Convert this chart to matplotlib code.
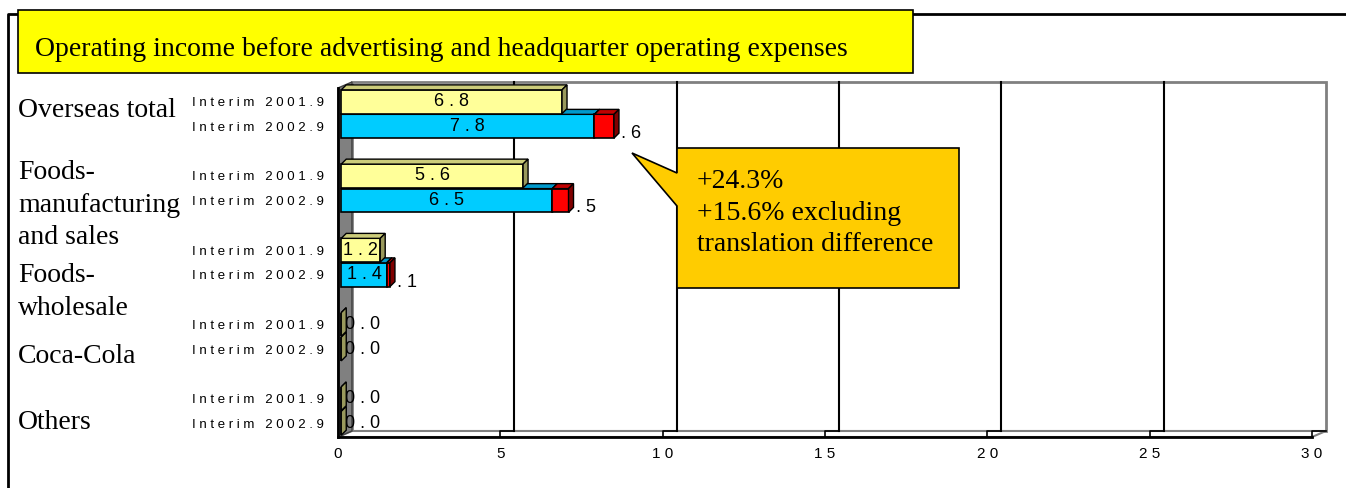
#!/usr/bin/env python3
"""
Operating income chart (Excel style 3-D horizontal bars) redrawn with matplotlib
"""

import matplotlib
matplotlib.use('Agg')  # no display
import matplotlib.pyplot as plt
from matplotlib import font_manager
from matplotlib.patches import Rectangle, Polygon
from matplotlib.transforms import blended_transform_factory

# ---- data ----
categories = ['Overseas total', 'Foods-\nmanufacturing\nand sales', 'Foods-\nwholesale',
              'Coca-Cola', 'Others']
periods = ['Interim 2001.9', 'Interim 2002.9']
income_2001 = [6.8, 5.6, 1.2, 0.0, 0.0]
income_2002 = [7.8, 6.5, 1.4, 0.0, 0.0]
translation_diff = [0.6, 0.5, 0.1, 0.0, 0.0]
x_ticks = [0, 5, 10, 15, 20, 25, 30]
title = 'Operating income before advertising and headquarter operating expenses'
callout = '+24.3%\n+15.6% excluding\ntranslation difference'

# ---- style ----
installed = {f.name for f in font_manager.fontManager.ttflist}
SERIF = ['Liberation Serif', 'DejaVu Serif']
NARROW = ['Liberation Sans Narrow' if 'Liberation Sans Narrow' in installed
          else 'Liberation Sans', 'DejaVu Sans']
YELLOW, YELLOW_SIDE, YELLOW_TOP = '#FFFF99', '#99995C', '#CCCC7A'
BLUE, BLUE_TOP = '#00CCFF', '#0099CC'
RED, RED_SIDE, RED_TOP = '#FF0000', '#800000', '#C00000'
BIG = 20  # serif text size

W, H = 1346, 488
Y_BOTTOM, Y_TOP = 4.35, -0.35   # category axis limits (inverted)
DX, DY = 0.43, 0.081            # depth of walls in data units
BDX, BDY = 0.154, 0.067         # depth of the bars
BAR_H = 0.32
OFFSET = 0.165                  # distance of each period bar from category centre
SHIFT = 0.1                     # bars sit a little behind the front plane


def spaced(s, gap=3):
    """the source chart letter-spaces its sans-serif labels"""
    return (' ' * gap).join(' '.join(w) for w in s.split(' '))


def box3d(ax, left, yc, width, face, side, top, z):
    y_top, y_bot = yc - BAR_H / 2, yc + BAR_H / 2
    right = left + width
    ax.barh(yc, width, height=BAR_H, left=left, color=face, edgecolor='black',
            linewidth=1.2, zorder=z)
    ax.fill([left, right, right + BDX, left + BDX],
            [y_top, y_top, y_top - BDY, y_top - BDY],
            facecolor=top, edgecolor='black', linewidth=1, zorder=z, clip_on=False)
    ax.fill([right, right, right + BDX, right + BDX],
            [y_top, y_bot, y_bot - BDY, y_top - BDY],
            facecolor=side, edgecolor='black', linewidth=1, zorder=z, clip_on=False)


fig = plt.figure(figsize=(W / 100, H / 100), dpi=100)

# background layer in pixel coordinates: frame and title box
bg = fig.add_axes([0, 0, 1, 1], zorder=0)
bg.set_xlim(0, W)
bg.set_ylim(H, 0)
bg.axis('off')
bg.plot([8, 8, W], [H, 14, 14], color='black', linewidth=2)
bg.add_patch(Rectangle((18, 10), 895, 63, facecolor='#FFFF00', edgecolor='black',
                       linewidth=1.2, zorder=3))
bg.text(35, 49, title, family=SERIF, fontsize=BIG, ha='left', va='center', zorder=4)

# main chart: front plane of the 3-D plot
ax = fig.add_axes([338 / W, (H - 437) / H, (1312 - 338) / W, (437 - 88) / H], zorder=1)
ax.set_facecolor('none')
ax.set_xlim(x_ticks[0], x_ticks[-1])
ax.set_ylim(Y_BOTTOM, Y_TOP)
for s in ax.spines.values():
    s.set_visible(False)

xmax = x_ticks[-1]
# back wall, floor, left wall
ax.add_patch(Rectangle((DX, Y_TOP - DY), xmax, Y_BOTTOM - Y_TOP, facecolor='white',
                       edgecolor='#808080', linewidth=2, zorder=0.5, clip_on=False))
ax.add_patch(Polygon([(0, Y_BOTTOM), (xmax, Y_BOTTOM), (xmax + DX, Y_BOTTOM - DY),
                      (DX, Y_BOTTOM - DY)], closed=True, facecolor='white',
                     edgecolor='#808080', linewidth=1.5, zorder=0.6, clip_on=False))
ax.add_patch(Polygon([(0, Y_BOTTOM), (0, Y_TOP), (DX, Y_TOP - DY), (DX, Y_BOTTOM - DY)],
                     closed=True, facecolor='#808080', edgecolor='#404040',
                     linewidth=1, zorder=0.7, clip_on=False))
for v in x_ticks[1:-1]:
    ax.plot([v + DX, v + DX], [Y_BOTTOM - DY, Y_TOP - DY], color='black',
            linewidth=1.5, zorder=0.8, clip_on=False)
for v in x_ticks[1:]:
    ax.plot([v, v, v + DX], [Y_BOTTOM, Y_BOTTOM - DY, Y_BOTTOM - DY], color='black',
            linewidth=1.2, zorder=0.9, clip_on=False)
ax.plot([0, xmax], [Y_BOTTOM, Y_BOTTOM], color='black', linewidth=2, zorder=0.9,
        clip_on=False)
ax.plot([0, 0], [Y_BOTTOM, Y_TOP], color='black', linewidth=2, zorder=0.9, clip_on=False)

# bars
lab_font = dict(family=NARROW, fontsize=13)
for i in range(len(categories)):
    y01, y02 = i - OFFSET, i + OFFSET
    total = income_2002[i] + translation_diff[i]

    # 2002 first so that the 2001 bar hides its top face
    box3d(ax, SHIFT, y02, income_2002[i], BLUE, YELLOW_SIDE, BLUE_TOP, 3)
    if translation_diff[i] > 0:
        box3d(ax, SHIFT + income_2002[i], y02, translation_diff[i], RED, RED_SIDE,
              RED_TOP, 3.1)
        ax.text(SHIFT + total + 0.3, y02 + 0.1, spaced(f'{translation_diff[i]:.1f}'),
                ha='center', va='center', zorder=2, **lab_font)
    box3d(ax, SHIFT, y01, income_2001[i], YELLOW, YELLOW_SIDE, YELLOW_TOP, 4)

    for val, yy in ((income_2001[i], y01), (income_2002[i], y02)):
        if val > 0:
            ax.text(SHIFT + val / 2, yy, spaced(f'{val:.1f}'), ha='center', va='center',
                    zorder=6, **lab_font)
        else:
            ax.text(0.22, yy, spaced(f'{val:.1f}'), ha='left', va='center', zorder=2,
                    **lab_font)

# period tick labels and value axis labels
ytick_pos = [i + d for i in range(len(categories)) for d in (-OFFSET, OFFSET)]
ax.set_yticks(ytick_pos)
ax.set_yticklabels([spaced(p) for p in periods] * len(categories),
                   family=NARROW, fontsize=9.5)
ax.set_xticks(x_ticks)
ax.set_xticklabels([spaced(str(t)) for t in x_ticks], family=NARROW, fontsize=11)
ax.tick_params(axis='y', length=0, pad=10)
ax.tick_params(axis='x', length=0, pad=7)

# category names on the far left
trans = blended_transform_factory(fig.transFigure, ax.transData)
name_shift = [-0.05, 0.23, 0.4, 0.26, 0.15]
for i, name in enumerate(categories):
    ax.text(18 / W, i + name_shift[i], name, transform=trans, family=SERIF,
            fontsize=BIG, ha='left', va='center', linespacing=1.4)

# callout on top layer
top = fig.add_axes([0, 0, 1, 1], zorder=2)
top.set_xlim(0, W)
top.set_ylim(H, 0)
top.axis('off')
top.add_patch(Polygon([(677, 148), (959, 148), (959, 288), (677, 288), (677, 206),
                       (632, 153), (677, 173)], closed=True, facecolor='#FFCC00',
                      edgecolor='black', linewidth=1.2))
top.text(697, 213, callout, family=SERIF, fontsize=BIG, ha='left', va='center',
         linespacing=1.34)

plt.savefig('out.png', dpi=100)
plt.close()
